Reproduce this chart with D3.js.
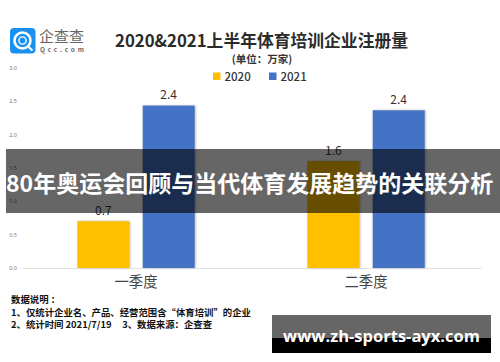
<!DOCTYPE html>
<html>
<head>
<meta charset="utf-8">
<script src="https://cdn.jsdelivr.net/npm/d3@7"></script>
<style>
    html, body { margin: 0; padding: 0; background: #fff; }
    svg { display: block; }
    text { font-family: "Noto Sans CJK SC", "Noto Sans", sans-serif; white-space: pre; }
</style>
</head>
<body>
<div id="chart"></div>
<script>
const quarters = ['一季度', '二季度'];
const seriesNames = ['2020', '2021'];
const values2020 = [0.7, 1.6];
const values2021 = [2.43, 2.36];
const yTicks = [0, 0.5, 1, 1.5, 2, 2.5, 3];
const notes = [
    '数据说明 ：',
    '1、仅统计企业名、产品、经营范围含“体育培训”的企业',
    '2、统计时间 2021/7/19     3、数据来源：企查查'
];
const colors = { 2020: '#ffc000', 2021: '#4472c4' };

const width = 500, height = 362;
const svg = d3.select('#chart').append('svg')
    .attr('width', width)
    .attr('height', height);

const y = d3.scaleLinear().domain([0, 3]).range([268, 67.5]);
const x0 = d3.scaleBand().domain(quarters).range([21, 481]);
const x1 = d3.scaleBand().domain(seriesNames)
    .range([0, x0.bandwidth()])
    .paddingInner(0.205)
    .paddingOuter(0.861);

// logo
const logo = svg.append('g');
logo.append('rect').attr('x', 10).attr('y', 28).attr('width', 25.5).attr('height', 25.5)
    .attr('rx', 4).attr('fill', '#1a90f0');
logo.append('circle').attr('cx', 22.5).attr('cy', 40.5).attr('r', 8)
    .attr('fill', 'none').attr('stroke', '#fff').attr('stroke-width', 2.6);
logo.append('circle').attr('cx', 22.5).attr('cy', 40.5).attr('r', 3.6)
    .attr('fill', 'none').attr('stroke', '#fff').attr('stroke-width', 1.4);
logo.append('line').attr('x1', 28).attr('y1', 46.5).attr('x2', 32.5).attr('y2', 50.5)
    .attr('stroke', '#fff').attr('stroke-width', 2);
logo.append('text').attr('x', 39).attr('y', 42)
    .attr('font-size', 15).attr('fill', '#666').attr('textLength', 45)
    .text('企查查');
logo.append('text').attr('x', 40).attr('y', 52)
    .attr('font-size', 6.5).attr('font-weight', 700).attr('fill', '#666').attr('textLength', 44)
    .text('Qcc.com');

// title
svg.append('text').attr('x', 261.5).attr('y', 47).attr('text-anchor', 'middle')
    .attr('font-size', 16.8).attr('font-weight', 700).attr('fill', '#2b2b2b')
    .text('2020&2021上半年体育培训企业注册量');
svg.append('text').attr('x', 262).attr('y', 63).attr('text-anchor', 'middle')
    .attr('font-size', 10.5).attr('font-weight', 700).attr('fill', '#333')
    .text('(单位：万家)');

// legend
const legendX = { 2020: 213, 2021: 269 };
seriesNames.forEach(s => {
    svg.append('rect').attr('x', legendX[s]).attr('y', 72.5).attr('width', 7.5).attr('height', 7.5)
        .attr('fill', colors[s]);
    svg.append('text').attr('x', legendX[s] + 11.5).attr('y', 81)
        .attr('font-size', 11.5).attr('font-weight', 500).attr('fill', '#333')
        .text(s);
});

// y axis, labels only
svg.append('g')
    .attr('transform', 'translate(17,0)')
    .call(d3.axisLeft(y).tickValues(yTicks).tickSize(0).tickPadding(0).tickFormat(d3.format('.1f')))
    .call(g => g.select('.domain').remove())
    .call(g => g.selectAll('text').attr('font-size', 5.5).attr('fill', '#777')
        .style('font-family', '"Noto Sans", sans-serif'));

// x axis
svg.append('g')
    .attr('transform', `translate(0,${y(0)})`)
    .call(d3.axisBottom(x0).tickSize(0).tickPadding(9))
    .call(g => g.select('.domain').attr('stroke', '#e2e2e2'))
    .call(g => g.selectAll('text').attr('font-size', 14.3).attr('fill', '#444')
        .style('font-family', '"Noto Sans CJK SC", sans-serif'));

// bars
const rows = [
    { name: '2020', values: values2020 },
    { name: '2021', values: values2021 }
];
rows.forEach(row => {
    const bars = svg.append('g');
    row.values.forEach((v, i) => {
        const bx = x0(quarters[i]) + x1(row.name);
        bars.append('rect')
            .attr('x', bx)
            .attr('y', y(v))
            .attr('width', x1.bandwidth())
            .attr('height', y(0) - y(v))
            .attr('fill', colors[row.name])
            .style('filter', 'drop-shadow(1px 0 1px #bbb)');
        bars.append('text')
            .attr('x', bx + x1.bandwidth() / 2)
            .attr('y', y(v) - 6.5)
            .attr('text-anchor', 'middle')
            .attr('font-size', 12)
            .attr('fill', '#333')
            .text(v.toFixed(1));
    });
});

// notes
notes.forEach((t, i) => {
    svg.append('text').attr('x', 11).attr('y', 303 + i * 12.5)
        .attr('font-size', 9.4).attr('font-weight', 700).attr('fill', '#111')
        .text(t);
});

// overlay banner
svg.append('rect').attr('x', 6).attr('y', 149).attr('width', 494).attr('height', 64)
    .attr('fill', '#000').attr('opacity', 0.6);
svg.append('text').attr('x', 6).attr('y', 192)
    .attr('font-size', 23).attr('font-weight', 700).attr('fill', '#fff')
    .text('80年奥运会回顾与当代体育发展趋势的关联分析');

// site badge
svg.append('rect').attr('x', 272).attr('y', 315).attr('width', 219).attr('height', 23).attr('fill', '#666');
svg.append('rect').attr('x', 272).attr('y', 338).attr('width', 219).attr('height', 15).attr('fill', '#000');
svg.append('text').attr('x', 381.5).attr('y', 342).attr('text-anchor', 'middle')
    .attr('font-size', 16.5).attr('font-weight', 700).attr('fill', '#fff')
    .style('font-family', '"Open Sans", sans-serif')
    .text('www.zh-sports-ayx.com');
</script>
</body>
</html>
